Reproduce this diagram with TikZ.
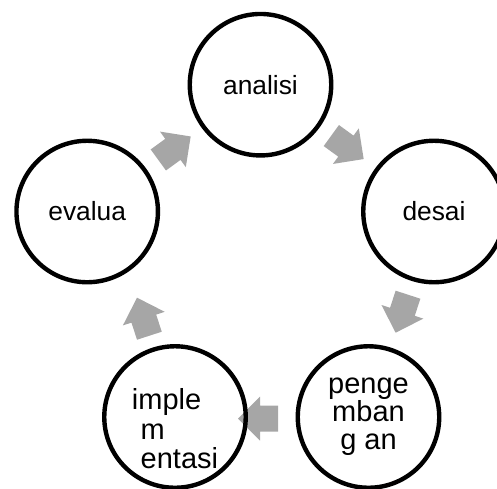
\documentclass[tikz,border=0pt]{standalone}
\usepackage{fontspec}
\setmainfont{Liberation Sans}
\definecolor{arrowgray}{RGB}{166,166,166}
\begin{document}
\begin{tikzpicture}[x=0.02cm,y=-0.02cm,
  stage/.style={circle,draw=black,line width=2.5pt,minimum size=2.83cm,inner sep=0pt,
    font=\fontsize{15}{18}\selectfont},
  longstage/.style={align=center,font=\fontsize{16.5}{16}\selectfont},
  cyclearrow/.style={fill=arrowgray,draw=none}]
\useasboundingbox (0,0) rectangle (497,488);
\clip (0,0) rectangle (497,488);
% grey arrows between the stages
\foreach \px/\py/\ang in {347.5/147.3/-36, 401.8/313.7/-108, 258/418.5/180,
  143.2/316.7/108, 174.5/148.2/36}
  \path[cyclearrow,shift={(\px,\py)},rotate=\ang]
    (-20,-13) -- (-2,-13) -- (-2,-22) -- (20,0) -- (-2,22) -- (-2,13) -- (-20,13) -- cycle;
% stages
\node[stage] (analisi) at (260.5,84.7) {analisi};
\node[stage] (desai) at (434,211.5) {desai};
\node[stage,longstage] (pengembangan) at (368.5,417) {penge\\mban\\g an};
\node[stage] (implementasi) at (175,417) {};
\node[longstage,align=left,font=\fontsize{16.5}{16.8}\selectfont] (impltext) at (175,429)
  {imple\\\hspace{5pt}m\\\hspace{5pt}entasi};
\node[stage] (evalua) at (87.2,211.5) {evalua};
\end{tikzpicture}
\end{document}
